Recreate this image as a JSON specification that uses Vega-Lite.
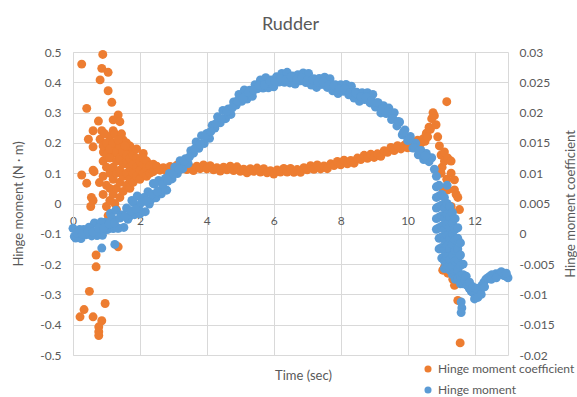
{
  "$schema": "https://vega.github.io/schema/vega-lite/v6.json",
  "width": 435,
  "height": 303,
  "autosize": "none",
  "padding": {"left": 73, "top": 52, "right": 69, "bottom": 42},
  "background": "white",
  "config": {"view": {"stroke": null}},
  "title": {"text": "Rudder", "font": "Lato", "fontSize": 18, "fontWeight": "normal", "color": "#595959", "anchor": "middle", "offset": 12},
  "datasets": {
    "hc": [
      {"t":0.26,"v":0.028},{"t":0.89,"v":0.0296},{"t":0.86,"v":0.0273},{"t":1.05,"v":0.02665},{"t":0.81,"v":0.0254},{"t":1.05,"v":0.0236},{"t":1.16,"v":0.0217},{"t":0.41,"v":0.0207},{"t":1.35,"v":0.0196},{"t":1.2,"v":0.0188},{"t":1.4,"v":0.0185},{"t":0.76,"v":0.0186},{"t":0.6,"v":0.017},{"t":0.86,"v":0.017},{"t":0.46,"v":0.0156},{"t":0.81,"v":0.0156},{"t":1.1,"v":0.016},{"t":0.6,"v":0.01435},{"t":1.5,"v":0.0155},{"t":1.6,"v":0.015},{"t":1.3,"v":0.01435},{"t":0.91,"v":0.0135},{"t":1.2,"v":0.01325},{"t":1.7,"v":0.0135},{"t":2.1,"v":0.01325},
      {"t":0.26,"v":0.0097},{"t":0.6,"v":0.0105},{"t":0.63,"v":0.01025},{"t":0.41,"v":0.00835},{"t":0.79,"v":0.00845},{"t":0.55,"v":0.006},{"t":0.6,"v":0.0055},{"t":0.53,"v":0.0045},{"t":1.0,"v":0.0045},{"t":1.25,"v":0.005},{"t":1.35,"v":-0.00215},{"t":0.69,"v":-0.0035},{"t":0.69,"v":-0.00545},{"t":0.49,"v":-0.0095},{"t":0.96,"v":-0.0115},{"t":0.33,"v":-0.0125},{"t":0.21,"v":-0.0137},{"t":0.6,"v":-0.0137},{"t":0.86,"v":-0.01435},{"t":0.77,"v":-0.01535},{"t":0.77,"v":-0.01615},{"t":0.77,"v":-0.0168},
      {"t":0.9,"v":0.0065},{"t":0.9,"v":0.0095},{"t":0.9,"v":0.012},{"t":0.9,"v":0.0145},
      {"t":1.0,"v":0.008},{"t":1.0,"v":0.011},{"t":1.0,"v":0.013},{"t":1.0,"v":0.015},
      {"t":1.1,"v":0.0055},{"t":1.1,"v":0.0075},{"t":1.1,"v":0.01},{"t":1.1,"v":0.0125},{"t":1.1,"v":0.014},
      {"t":1.2,"v":0.0065},{"t":1.2,"v":0.009},{"t":1.2,"v":0.011},{"t":1.2,"v":0.015},{"t":1.2,"v":0.017},
      {"t":1.3,"v":0.0075},{"t":1.3,"v":0.01},{"t":1.3,"v":0.012},{"t":1.3,"v":0.0135},
      {"t":1.4,"v":0.006},{"t":1.4,"v":0.0085},{"t":1.4,"v":0.0105},{"t":1.4,"v":0.0125},{"t":1.4,"v":0.0145},
      {"t":1.5,"v":0.007},{"t":1.5,"v":0.0095},{"t":1.5,"v":0.0115},{"t":1.5,"v":0.0135},
      {"t":1.6,"v":0.008},{"t":1.6,"v":0.01},{"t":1.6,"v":0.012},{"t":1.6,"v":0.013},
      {"t":1.7,"v":0.0075},{"t":1.7,"v":0.009},{"t":1.7,"v":0.011},{"t":1.7,"v":0.0125},{"t":1.7,"v":0.0145},
      {"t":1.8,"v":0.0085},{"t":1.8,"v":0.01},{"t":1.8,"v":0.0115},{"t":1.8,"v":0.013},
      {"t":1.9,"v":0.0095},{"t":1.9,"v":0.011},{"t":1.9,"v":0.0125},{"t":1.9,"v":0.014},
      {"t":2.0,"v":0.009},{"t":2.0,"v":0.0105},{"t":2.0,"v":0.012},
      {"t":2.1,"v":0.01},{"t":2.1,"v":0.0115},{"t":2.1,"v":0.0125},
      {"t":2.2,"v":0.0095},{"t":2.2,"v":0.011},{"t":2.2,"v":0.012},
      {"t":2.3,"v":0.01},{"t":2.3,"v":0.01125},{"t":2.4,"v":0.01025},{"t":2.4,"v":0.0115},
      {"t":1.05,"v":0.003},{"t":1.15,"v":0.0025},{"t":1.3,"v":0.004},
      {"t":1.25,"v":0.0165},{"t":1.45,"v":0.0165},{"t":1.35,"v":0.0155},{"t":0.95,"v":0.0165},{"t":1.55,"v":0.0145},
      {"t":2.5,"v":0.01115},{"t":2.6,"v":0.0105},{"t":2.7,"v":0.0109},{"t":2.8,"v":0.01035},{"t":2.9,"v":0.0111},{"t":3.0,"v":0.0107},{"t":3.1,"v":0.0113},{"t":3.2,"v":0.01065},{"t":3.3,"v":0.0113},{"t":3.4,"v":0.0106},
      {"t":3.5,"v":0.011},{"t":3.6,"v":0.01045},{"t":3.7,"v":0.01115},{"t":3.8,"v":0.01075},{"t":3.9,"v":0.01135},{"t":4.0,"v":0.0107},{"t":4.1,"v":0.01125},{"t":4.2,"v":0.01055},{"t":4.3,"v":0.0109},{"t":4.4,"v":0.01035},
      {"t":4.5,"v":0.011},{"t":4.6,"v":0.01055},{"t":4.7,"v":0.01115},{"t":4.8,"v":0.01045},{"t":4.9,"v":0.01105},{"t":5.0,"v":0.0103},{"t":5.1,"v":0.01065},{"t":5.2,"v":0.01005},{"t":5.3,"v":0.01075},{"t":5.4,"v":0.0103},
      {"t":5.5,"v":0.01085},{"t":5.6,"v":0.0102},{"t":5.7,"v":0.01075},{"t":5.8,"v":0.01005},{"t":5.9,"v":0.0104},{"t":6.0,"v":0.00985},{"t":6.1,"v":0.01055},{"t":6.2,"v":0.0102},{"t":6.3,"v":0.0108},{"t":6.4,"v":0.0102},
      {"t":6.5,"v":0.0108},{"t":6.6,"v":0.01015},{"t":6.7,"v":0.0106},{"t":6.8,"v":0.01015},{"t":6.9,"v":0.0109},{"t":7.0,"v":0.01055},{"t":7.1,"v":0.01125},{"t":7.2,"v":0.01065},{"t":7.3,"v":0.01135},{"t":7.4,"v":0.0107},
      {"t":7.5,"v":0.0112},{"t":7.6,"v":0.01075},{"t":7.7,"v":0.01155},{"t":7.8,"v":0.01125},{"t":7.9,"v":0.01195},{"t":8.0,"v":0.0114},{"t":8.1,"v":0.01215},{"t":8.2,"v":0.01155},{"t":8.3,"v":0.0121},{"t":8.4,"v":0.01165},
      {"t":8.5,"v":0.0125},{"t":8.6,"v":0.01225},{"t":8.7,"v":0.01295},{"t":8.8,"v":0.01245},{"t":8.9,"v":0.01315},{"t":9.0,"v":0.0126},{"t":9.1,"v":0.0132},{"t":9.2,"v":0.0128},{"t":9.3,"v":0.0137},{"t":9.4,"v":0.01345},
      {"t":9.5,"v":0.01425},{"t":9.6,"v":0.01375},{"t":9.7,"v":0.01455},{"t":9.8,"v":0.014},{"t":9.9,"v":0.0146},{"t":10.0,"v":0.0142},{"t":10.1,"v":0.015},{"t":10.2,"v":0.01475},{"t":10.3,"v":0.01545},{"t":10.4,"v":0.01495},
      {"t":10.48,"v":0.01575},{"t":10.52,"v":0.01525},{"t":10.56,"v":0.0166},{"t":10.6,"v":0.016},{"t":10.64,"v":0.0176},{"t":10.68,"v":0.01725},{"t":10.72,"v":0.019},{"t":10.76,"v":0.02},{"t":10.8,"v":0.0195},{"t":10.85,"v":0.018},{"t":10.9,"v":0.016},{"t":10.95,"v":0.0145},
      {"t":11.0,"v":0.013},{"t":11.03,"v":0.011},{"t":11.1,"v":0.0135},{"t":11.1,"v":0.012},{"t":11.2,"v":0.0125},{"t":11.3,"v":0.012},{"t":11.17,"v":0.009},{"t":11.3,"v":0.01},{"t":11.4,"v":0.0089},{"t":11.2,"v":0.00725},{"t":11.45,"v":0.0065},{"t":11.4,"v":0.00725},{"t":11.5,"v":0.006},{"t":11.3,"v":0.0045},{"t":11.55,"v":0.004},
      {"t":11.1,"v":-0.0055},{"t":11.05,"v":-0.006},{"t":11.2,"v":-0.0065},{"t":11.35,"v":-0.0075},{"t":11.4,"v":-0.0085},{"t":11.45,"v":-0.0065},{"t":11.5,"v":-0.011},{"t":11.57,"v":-0.018},{"t":11.17,"v":0.0218},{"t":11.0,"v":0.01},{"t":11.05,"v":0.0075},{"t":11.15,"v":0.0},{"t":11.25,"v":-0.0025}
    ],
    "hm": [
      {"t":0,"v":-0.082},{"t":0.08,"v":-0.114},{"t":0.16,"v":-0.093},{"t":0.24,"v":-0.116},{"t":0.32,"v":-0.086},{"t":0.4,"v":-0.103},{"t":0.48,"v":-0.078},{"t":0.56,"v":-0.107},{"t":0.64,"v":-0.064},{"t":0.72,"v":-0.106},
      {"t":0.8,"v":-0.075},{"t":0.88,"v":-0.105},{"t":0.96,"v":-0.062},{"t":1.04,"v":-0.085},{"t":1.12,"v":-0.033},{"t":1.2,"v":-0.083},{"t":1.28,"v":-0.022},{"t":1.36,"v":-0.082},{"t":1.44,"v":-0.038},{"t":1.52,"v":-0.079},
      {"t":1.6,"v":-0.015},{"t":1.68,"v":-0.043},{"t":1.76,"v":0.01},{"t":1.84,"v":-0.037},{"t":1.92,"v":0.025},{"t":2,"v":-0.034},{"t":2.08,"v":0.013},{"t":2.16,"v":-0.027},{"t":2.24,"v":0.039},{"t":2.32,"v":0.011},
      {"t":2.4,"v":0.066},{"t":2.48,"v":0.019},{"t":2.56,"v":0.076},{"t":2.64,"v":0.032},{"t":2.72,"v":0.073},{"t":2.8,"v":0.044},{"t":2.88,"v":0.099},{"t":2.96,"v":0.081},{"t":3.04,"v":0.12},{"t":3.12,"v":0.099},
      {"t":3.2,"v":0.141},{"t":3.28,"v":0.115},{"t":3.36,"v":0.148},{"t":3.44,"v":0.132},{"t":3.52,"v":0.174},{"t":3.6,"v":0.166},{"t":3.68,"v":0.203},{"t":3.76,"v":0.182},{"t":3.84,"v":0.224},{"t":3.92,"v":0.198},
      {"t":4,"v":0.231},{"t":4.08,"v":0.215},{"t":4.16,"v":0.258},{"t":4.24,"v":0.249},{"t":4.32,"v":0.286},{"t":4.4,"v":0.266},{"t":4.48,"v":0.307},{"t":4.56,"v":0.28},{"t":4.64,"v":0.312},{"t":4.72,"v":0.294},
      {"t":4.8,"v":0.335},{"t":4.88,"v":0.325},{"t":4.96,"v":0.36},{"t":5.04,"v":0.337},{"t":5.12,"v":0.375},{"t":5.2,"v":0.345},{"t":5.28,"v":0.374},{"t":5.36,"v":0.354},{"t":5.44,"v":0.392},{"t":5.52,"v":0.379},
      {"t":5.6,"v":0.408},{"t":5.68,"v":0.381},{"t":5.76,"v":0.415},{"t":5.84,"v":0.382},{"t":5.92,"v":0.408},{"t":6,"v":0.385},{"t":6.08,"v":0.418},{"t":6.16,"v":0.401},{"t":6.24,"v":0.429},{"t":6.32,"v":0.4},
      {"t":6.4,"v":0.433},{"t":6.48,"v":0.398},{"t":6.56,"v":0.421},{"t":6.64,"v":0.394},{"t":6.72,"v":0.425},{"t":6.8,"v":0.405},{"t":6.88,"v":0.431},{"t":6.96,"v":0.399},{"t":7.04,"v":0.429},{"t":7.12,"v":0.391},
      {"t":7.2,"v":0.412},{"t":7.28,"v":0.383},{"t":7.36,"v":0.413},{"t":7.44,"v":0.393},{"t":7.52,"v":0.417},{"t":7.6,"v":0.383},{"t":7.68,"v":0.412},{"t":7.76,"v":0.372},{"t":7.84,"v":0.392},{"t":7.92,"v":0.363},
      {"t":8,"v":0.392},{"t":8.08,"v":0.37},{"t":8.16,"v":0.393},{"t":8.24,"v":0.359},{"t":8.32,"v":0.387},{"t":8.4,"v":0.348},{"t":8.48,"v":0.367},{"t":8.56,"v":0.337},{"t":8.64,"v":0.366},{"t":8.72,"v":0.343},
      {"t":8.8,"v":0.366},{"t":8.88,"v":0.332},{"t":8.96,"v":0.36},{"t":9.04,"v":0.318},{"t":9.12,"v":0.333},{"t":9.2,"v":0.299},{"t":9.28,"v":0.323},{"t":9.36,"v":0.297},{"t":9.44,"v":0.315},{"t":9.52,"v":0.277},
      {"t":9.6,"v":0.3},{"t":9.68,"v":0.256},{"t":9.76,"v":0.269},{"t":9.84,"v":0.227},{"t":9.92,"v":0.243},{"t":10,"v":0.208},{"t":10.08,"v":0.221},{"t":10.16,"v":0.183},{"t":10.24,"v":0.199},{"t":10.32,"v":0.161},
      {"t":10.4,"v":0.175},{"t":10.48,"v":0.145},{"t":10.56,"v":0.165},{"t":10.64,"v":0.138},{"t":10.72,"v":0.151},{"t":10.8,"v":0.113},
      {"t":0.04,"v":-0.109},{"t":0.2,"v":-0.086},{"t":0.36,"v":-0.1},{"t":0.52,"v":-0.084},{"t":0.68,"v":-0.103},{"t":0.84,"v":-0.061},{"t":1.0,"v":-0.086},{"t":1.16,"v":-0.047},{"t":1.32,"v":-0.081},{"t":1.48,"v":-0.039},
      {"t":1.64,"v":-0.052},{"t":1.8,"v":0.004},{"t":1.96,"v":-0.015},{"t":2.12,"v":0.02},{"t":2.28,"v":-0.002},{"t":2.44,"v":0.064},{"t":2.6,"v":0.042},{"t":2.76,"v":0.083},{"t":0.86,"v":-0.147},{"t":1.25,"v":-0.135},
      {"t":0.12,"v":-0.097},{"t":0.28,"v":-0.1},{"t":0.44,"v":-0.093},{"t":0.6,"v":-0.094},{"t":0.76,"v":-0.082},{"t":0.92,"v":-0.081},{"t":1.08,"v":-0.067},{"t":1.24,"v":-0.064},{"t":1.4,"v":-0.048},{"t":1.56,"v":-0.043},
      {"t":1.72,"v":-0.024},{"t":1.88,"v":-0.018},{"t":2.04,"v":0.002},{"t":2.2,"v":0.01},{"t":2.36,"v":0.031},{"t":2.52,"v":0.039},{"t":2.68,"v":0.063},{"t":2.84,"v":0.074},
      {"t":3.0,"v":0.098},{"t":3.16,"v":0.113},{"t":3.32,"v":0.14},{"t":3.48,"v":0.154},{"t":3.64,"v":0.181},{"t":3.8,"v":0.196},{"t":3.96,"v":0.223},{"t":4.12,"v":0.238},{"t":4.28,"v":0.264},{"t":4.44,"v":0.279},
      {"t":4.6,"v":0.304},{"t":4.76,"v":0.316},{"t":4.92,"v":0.339},{"t":5.08,"v":0.348},{"t":5.24,"v":0.367},{"t":5.4,"v":0.374},{"t":5.56,"v":0.39},{"t":5.72,"v":0.391},{"t":5.88,"v":0.403},{"t":6.04,"v":0.403},
      {"t":6.2,"v":0.412},{"t":6.36,"v":0.409},{"t":6.52,"v":0.418},{"t":6.68,"v":0.41},{"t":6.84,"v":0.415},{"t":7.0,"v":0.407},{"t":7.16,"v":0.409},{"t":7.32,"v":0.399},{"t":7.48,"v":0.401},{"t":7.64,"v":0.39},
      {"t":7.8,"v":0.39},{"t":7.96,"v":0.378},{"t":8.12,"v":0.378},{"t":8.28,"v":0.366},{"t":8.44,"v":0.365},{"t":8.6,"v":0.353},{"t":8.76,"v":0.351},{"t":8.92,"v":0.339},{"t":9.08,"v":0.333},{"t":9.24,"v":0.312},
      {"t":9.4,"v":0.302},{"t":9.56,"v":0.281},{"t":9.72,"v":0.271},{"t":9.88,"v":0.236},{"t":10.04,"v":0.212},{"t":10.2,"v":0.184},{"t":10.36,"v":0.175},{"t":10.52,"v":0.157},
      {"t":10.86,"v":0.09},{"t":10.86,"v":0.055},{"t":10.86,"v":0.02},{"t":10.86,"v":-0.015},{"t":10.86,"v":-0.05},{"t":10.86,"v":-0.085},
      {"t":10.94,"v":0.06},{"t":10.94,"v":0.025},{"t":10.94,"v":-0.01},{"t":10.94,"v":-0.045},{"t":10.94,"v":-0.08},{"t":10.94,"v":-0.115},{"t":10.94,"v":-0.15},
      {"t":11.02,"v":0.03},{"t":11.02,"v":-0.005},{"t":11.02,"v":-0.04},{"t":11.02,"v":-0.075},{"t":11.02,"v":-0.11},{"t":11.02,"v":-0.145},{"t":11.02,"v":-0.18},
      {"t":11.1,"v":0.02},{"t":11.1,"v":-0.015},{"t":11.1,"v":-0.05},{"t":11.1,"v":-0.085},{"t":11.1,"v":-0.12},{"t":11.1,"v":-0.155},{"t":11.1,"v":-0.19},{"t":11.1,"v":-0.215},
      {"t":11.18,"v":0.06},{"t":11.18,"v":0.0},{"t":11.18,"v":-0.035},{"t":11.18,"v":-0.07},{"t":11.18,"v":-0.105},{"t":11.18,"v":-0.14},{"t":11.18,"v":-0.175},{"t":11.18,"v":-0.21},
      {"t":11.26,"v":-0.01},{"t":11.26,"v":-0.045},{"t":11.26,"v":-0.08},{"t":11.26,"v":-0.115},{"t":11.26,"v":-0.15},{"t":11.26,"v":-0.185},{"t":11.26,"v":-0.22},
      {"t":11.34,"v":-0.03},{"t":11.34,"v":-0.065},{"t":11.34,"v":-0.1},{"t":11.34,"v":-0.135},{"t":11.34,"v":-0.17},{"t":11.34,"v":-0.205},{"t":11.34,"v":-0.235},
      {"t":11.42,"v":-0.05},{"t":11.42,"v":-0.085},{"t":11.42,"v":-0.12},{"t":11.42,"v":-0.155},{"t":11.42,"v":-0.19},{"t":11.42,"v":-0.225},{"t":11.42,"v":-0.25},
      {"t":11.5,"v":-0.08},{"t":11.5,"v":-0.115},{"t":11.5,"v":-0.15},{"t":11.5,"v":-0.185},{"t":11.5,"v":-0.22},{"t":11.5,"v":-0.25},
      {"t":11.58,"v":-0.13},{"t":11.58,"v":-0.17},{"t":11.58,"v":-0.205},{"t":11.58,"v":-0.24},{"t":11.58,"v":-0.265},
      {"t":11.66,"v":-0.2},{"t":11.66,"v":-0.235},{"t":11.66,"v":-0.265},
      {"t":11.72,"v":-0.255},{"t":11.78,"v":-0.27},{"t":11.84,"v":-0.28},{"t":11.9,"v":-0.29},{"t":11.96,"v":-0.295},{"t":12.02,"v":-0.3},{"t":12.08,"v":-0.305},{"t":12.12,"v":-0.29},{"t":12.18,"v":-0.285},{"t":12.22,"v":-0.27},
      {"t":12.28,"v":-0.26},{"t":12.34,"v":-0.25},{"t":12.4,"v":-0.245},{"t":12.46,"v":-0.24},{"t":12.52,"v":-0.235},{"t":12.58,"v":-0.238},{"t":12.64,"v":-0.232},{"t":12.7,"v":-0.235},{"t":12.76,"v":-0.23},{"t":12.82,"v":-0.235},
      {"t":12.88,"v":-0.238},{"t":12.94,"v":-0.24},{"t":13.0,"v":-0.245},
      {"t":11.75,"v":-0.24},{"t":11.85,"v":-0.26},{"t":11.95,"v":-0.275},{"t":12.05,"v":-0.28},{"t":12.0,"v":-0.315},{"t":12.1,"v":-0.31},{"t":12.2,"v":-0.3},{"t":12.3,"v":-0.275},{"t":12.5,"v":-0.25},{"t":12.65,"v":-0.245},{"t":12.8,"v":-0.225},{"t":12.95,"v":-0.23},
      {"t":11.6,"v":-0.325},{"t":11.62,"v":-0.345},{"t":11.6,"v":-0.36}
    ]
  },
  "layer": [
    {
      "data": {"name": "hc"},
      "mark": {"type": "circle", "size": 80, "opacity": 1},
      "encoding": {
        "x": {
          "field": "t", "type": "quantitative",
          "scale": {"domain": [0, 13], "nice": false, "zero": false},
          "axis": {
            "values": [0, 2, 4, 6, 8, 10, 12], "offset": -151.5, "ticks": false, "domain": false,
            "grid": true, "gridColor": "#d9d9d9", "gridWidth": 1,
            "labelFont": "Lato", "labelFontSize": 12, "labelColor": "#595959", "labelPadding": 12, "labelFlush": false,
            "title": "Time (sec)", "titleFont": "Lato", "titleFontSize": 13, "titleFontWeight": "normal", "titleColor": "#595959",
            "titleX": 230, "titleY": 172, "titleBaseline": "middle", "titleAlign": "center"
          }
        },
        "y": {
          "field": "v", "type": "quantitative",
          "scale": {"domain": [-0.02, 0.03], "nice": false, "zero": false},
          "axis": {
            "orient": "right", "values": [-0.02, -0.015, -0.01, -0.005, 0, 0.005, 0.01, 0.015, 0.02, 0.025, 0.03],
            "grid": false, "ticks": false, "domain": true, "domainColor": "#d9d9d9",
            "labelExpr": "replace(format(datum.value, '.3~f'), '\u2212', '-')",
            "labelFont": "Lato", "labelFontSize": 12, "labelColor": "#595959", "labelPadding": 11,
            "title": "Hinge moment coefficient", "titleFont": "Lato", "titleFontSize": 13, "titleFontWeight": "normal", "titleColor": "#595959",
            "titleAngle": 270, "titleX": 62, "titleY": 151.5, "titleBaseline": "middle", "titleAlign": "center"
          }
        },
        "color": {
          "datum": "Hinge moment coefficient",
          "scale": {"domain": ["Hinge moment coefficient", "Hinge moment"], "range": ["#ED7D31", "#5B9BD5"]},
          "legend": {
            "orient": "none", "legendX": 349, "legendY": 311, "title": null, "direction": "vertical",
            "symbolType": "circle", "symbolSize": 50, "labelFont": "Lato", "labelFontSize": 12, "labelColor": "#595959",
            "labelOffset": 4, "rowPadding": 9, "padding": 0
          }
        }
      }
    },
    {
      "data": {"name": "hm"},
      "mark": {"type": "circle", "size": 80, "opacity": 1},
      "encoding": {
        "x": {"field": "t", "type": "quantitative"},
        "y": {
          "field": "v", "type": "quantitative",
          "scale": {"domain": [-0.5, 0.5], "nice": false, "zero": false},
          "axis": {
            "orient": "left", "values": [-0.5, -0.4, -0.3, -0.2, -0.1, 0, 0.1, 0.2, 0.3, 0.4, 0.5],
            "grid": true, "gridColor": "#d9d9d9", "ticks": false, "domain": true, "domainColor": "#d9d9d9",
            "labelExpr": "replace(format(datum.value, '.1~f'), '\u2212', '-')",
            "labelFont": "Lato", "labelFontSize": 12, "labelColor": "#595959", "labelPadding": 12,
            "title": "Hinge moment (N · m)", "titleFont": "Lato", "titleFontSize": 13, "titleFontWeight": "normal", "titleColor": "#595959",
            "titleAngle": 270, "titleX": -55, "titleY": 151.5, "titleBaseline": "middle", "titleAlign": "center"
          }
        },
        "color": {"datum": "Hinge moment"}
      }
    }
  ],
  "resolve": {"scale": {"y": "independent"}}
}
